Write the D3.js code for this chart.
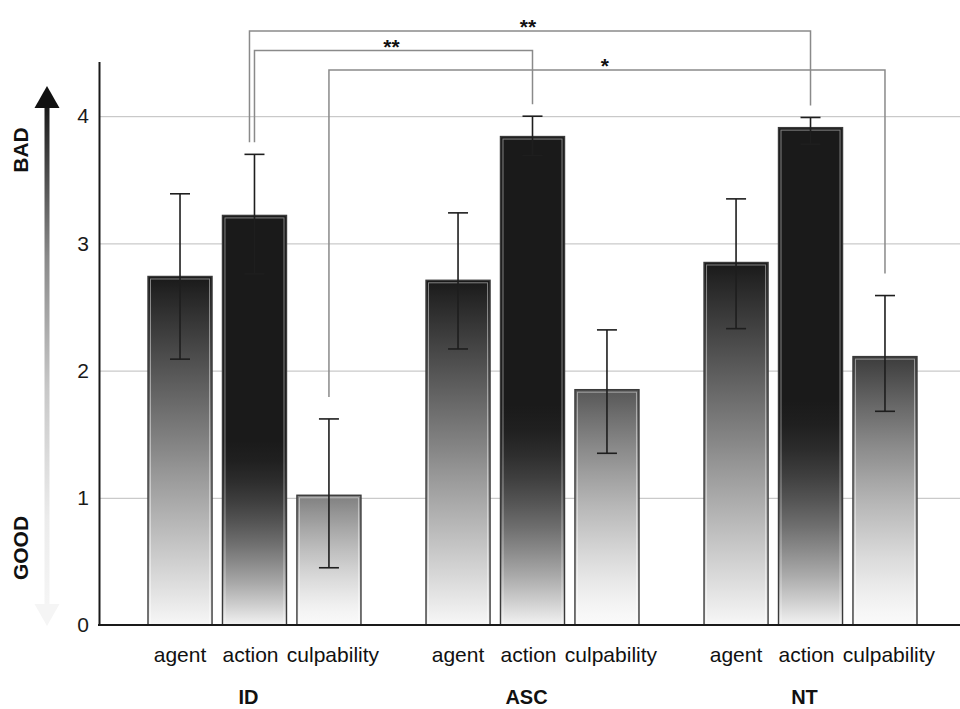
<!DOCTYPE html>
<html>
<head>
<meta charset="utf-8">
<script src="https://d3js.org/d3.v7.min.js"></script>
<style>
  body { margin: 0; background: #fff; }
  svg { display: block; font-family: "Liberation Sans", Arial, sans-serif; }
  .grid line { stroke: #bdbdbd; stroke-width: 1; }
  .grid path { display: none; }
  .axis path { stroke: #1a1a1a; stroke-width: 2; }
  .axis text { font-size: 21px; fill: #1a1a1a; }
</style>
</head>
<body>
<div id="chart"></div>
<script>
var groups = ["ID", "ASC", "NT"];
var measures = ["agent", "action", "culpability"];

// mean ratings, in measure order
var meanID = [2.74, 3.22, 1.02];
var meanASC = [2.71, 3.84, 1.85];
var meanNT = [2.85, 3.91, 2.11];

// error bar ends
var lowID = [2.09, 2.76, 0.45];
var lowASC = [2.17, 3.69, 1.35];
var lowNT = [2.33, 3.78, 1.68];
var highID = [3.39, 3.70, 1.62];
var highASC = [3.24, 4.00, 2.32];
var highNT = [3.35, 3.99, 2.59];

var yTicks = [0, 1, 2, 3, 4];

// significance brackets
var compFrom = [["ID", "action"], ["ID", "action"], ["ID", "culpability"]];
var compTo = [["NT", "action"], ["ASC", "action"], ["NT", "culpability"]];
var compLabel = ["**", "**", "*"];

var width = 960, height = 709;
var baseY = 625;

var means = {ID: meanID, ASC: meanASC, NT: meanNT};
var lows = {ID: lowID, ASC: lowASC, NT: lowNT};
var highs = {ID: highID, ASC: highASC, NT: highNT};

var data = [];
groups.forEach(function(g) {
    measures.forEach(function(m, i) {
        data.push({group: g, measure: m, value: means[g][i], lo: lows[g][i], hi: highs[g][i]});
    });
});

var x0 = d3.scaleBand()
        .domain(groups)
        .range([148, 917])
        .paddingInner(0.234)
        .paddingOuter(0);

var x1 = d3.scaleBand()
        .domain(measures)
        .range([0, x0.bandwidth()])
        .paddingInner(0.14);

var y = d3.scaleLinear()
        .domain([0, 4.43])
        .range([baseY, 61.5]);

function cx(g, m) { return x0(g) + x1(m) + x1.bandwidth() / 2; }

// lightness of a bar at fraction t of its height (0 bottom, 1 top)
function shade(m, v, t) {
    if (m === "agent") return 0.97 - 0.87 * t;
    if (m === "action") return 0.1 + 0.85 * Math.pow(Math.max(0, 1 - t / 0.45), 1.6);
    var top = Math.min(0.5, Math.max(0.15, 1.08 - 0.4 * v));
    return 0.98 - (0.98 - top) * Math.pow(t, 1.3);
}

var svg = d3.select("#chart").append("svg")
        .attr("width", width)
        .attr("height", height);

var defs = svg.append("defs");

data.forEach(function(d, i) {
    var grad = defs.append("linearGradient")
            .attr("id", "bar" + i)
            .attr("x1", 0).attr("y1", 0)
            .attr("x2", 0).attr("y2", 1);
    d3.range(0, 1.0001, 0.05).forEach(function(o) {
        var l = Math.round(255 * shade(d.measure, d.value, 1 - o));
        grad.append("stop")
                .attr("offset", o)
                .attr("stop-color", d3.rgb(l, l, l));
    });
});

var arrowGrad = defs.append("linearGradient")
        .attr("id", "arrowGrad")
        .attr("gradientUnits", "userSpaceOnUse")
        .attr("x1", 0).attr("y1", 100)
        .attr("x2", 0).attr("y2", baseY);
[[0, "#151515"], [0.3, "#8a8a8a"], [0.55, "#c8c8c8"], [0.8, "#ececec"], [1, "#f7f7f7"]].forEach(function(s) {
    arrowGrad.append("stop").attr("offset", s[0]).attr("stop-color", s[1]);
});

// gridlines
svg.append("g")
        .attr("class", "grid")
        .attr("transform", "translate(99,0)")
        .call(d3.axisRight(y).tickValues(yTicks.slice(1)).tickSize(width - 99).tickFormat(""));

// bars
var bars = svg.append("g").attr("class", "bars");

bars.selectAll("rect.bar")
        .data(data)
        .enter().append("rect")
        .attr("class", "bar")
        .attr("x", function(d) { return x0(d.group) + x1(d.measure); })
        .attr("y", function(d) { return y(d.value); })
        .attr("width", x1.bandwidth())
        .attr("height", function(d) { return y(0) - y(d.value); })
        .attr("fill", function(d, i) { return "url(#bar" + i + ")"; })
        .attr("stroke", "#3a3a3a")
        .attr("stroke-width", 1.4);

bars.selectAll("rect.inner")
        .data(data)
        .enter().append("rect")
        .attr("class", "inner")
        .attr("x", function(d) { return x0(d.group) + x1(d.measure) + 2.5; })
        .attr("y", function(d) { return y(d.value) + 2.5; })
        .attr("width", x1.bandwidth() - 5)
        .attr("height", function(d) { return y(0) - y(d.value) - 3; })
        .attr("fill", "none")
        .attr("stroke", "rgba(255,255,255,0.45)")
        .attr("stroke-width", 1);

// error bars
var err = svg.append("g")
        .attr("class", "errors")
        .attr("stroke", "#1e1e1e")
        .attr("stroke-width", 1.6);

err.selectAll("line.stem")
        .data(data)
        .enter().append("line")
        .attr("x1", function(d) { return cx(d.group, d.measure); })
        .attr("x2", function(d) { return cx(d.group, d.measure); })
        .attr("y1", function(d) { return y(d.lo); })
        .attr("y2", function(d) { return y(d.hi); });

["lo", "hi"].forEach(function(k) {
    err.selectAll("line.cap" + k)
            .data(data)
            .enter().append("line")
            .attr("x1", function(d) { return cx(d.group, d.measure) - 10; })
            .attr("x2", function(d) { return cx(d.group, d.measure) + 10; })
            .attr("y1", function(d) { return y(d[k]); })
            .attr("y2", function(d) { return y(d[k]); });
});

// axes
svg.append("g")
        .attr("class", "axis")
        .attr("transform", "translate(99,0)")
        .call(d3.axisLeft(y).tickValues(yTicks).tickFormat(d3.format("d"))
                .tickSize(0).tickSizeOuter(0).tickPadding(10));

svg.append("line")
        .attr("x1", 98).attr("x2", width)
        .attr("y1", y(0)).attr("y2", y(0))
        .attr("stroke", "#1a1a1a")
        .attr("stroke-width", 2);

// significance brackets
var dropGap = {action: 12, culpability: 22};
var brackets = svg.append("g").attr("class", "brackets");

compFrom.forEach(function(f, i) {
    var t = compTo[i];
    var shared = compFrom.slice(i + 1).filter(function(o) { return o[0] === f[0] && o[1] === f[1]; }).length;
    var xa = cx(f[0], f[1]) - 5 * shared,
        xb = cx(t[0], t[1]);
    var by = 31 + 19.5 * i;
    var ya = y(highs[f[0]][measures.indexOf(f[1])]) - dropGap[f[1]],
        yb = y(highs[t[0]][measures.indexOf(t[1])]) - dropGap[t[1]];
    brackets.append("path")
            .attr("d", "M" + xa + "," + ya + "V" + by + "H" + xb + "V" + yb)
            .attr("fill", "none")
            .attr("stroke", "#8a8a8a")
            .attr("stroke-width", 1.5);
    brackets.append("text")
            .attr("x", (xa + xb) / 2 - 2)
            .attr("y", by + 3)
            .attr("text-anchor", "middle")
            .style("font-size", "21px")
            .style("font-weight", "bold")
            .attr("fill", "#111")
            .text(compLabel[i]);
});

// category labels
var labelShift = {agent: 0, action: -4, culpability: 4};

svg.append("g").selectAll("text")
        .data(data)
        .enter().append("text")
        .attr("x", function(d) { return cx(d.group, d.measure) + labelShift[d.measure]; })
        .attr("y", 662)
        .attr("text-anchor", "middle")
        .style("font-size", "21px")
        .attr("fill", "#111")
        .text(function(d) { return d.measure; });

svg.append("g").selectAll("text")
        .data(groups)
        .enter().append("text")
        .attr("x", function(g) { return x0(g) + x0.bandwidth() / 2 - 6; })
        .attr("y", 704)
        .attr("text-anchor", "middle")
        .style("font-size", "20px")
        .style("font-weight", "bold")
        .attr("fill", "#111")
        .text(function(g) { return g; });

// good / bad arrow
var ax = 47;
svg.append("rect")
        .attr("x", ax - 2.5).attr("y", 106)
        .attr("width", 5).attr("height", 500)
        .attr("fill", "url(#arrowGrad)");
svg.append("path")
        .attr("d", "M" + (ax - 12.5) + ",108L" + ax + ",86L" + (ax + 12.5) + ",108Z")
        .attr("fill", "#111");
svg.append("path")
        .attr("d", "M" + (ax - 12.5) + ",604L" + ax + ",626L" + (ax + 12.5) + ",604Z")
        .attr("fill", "#f5f5f5");

[["BAD", 150], ["GOOD", 548]].forEach(function(l) {
    svg.append("text")
            .attr("transform", "translate(21," + l[1] + ") rotate(-90)")
            .attr("text-anchor", "middle")
            .attr("dy", "0.35em")
            .style("font-size", "21px")
            .style("font-weight", "bold")
            .attr("fill", "#111")
            .text(l[0]);
});
</script>
</body>
</html>
